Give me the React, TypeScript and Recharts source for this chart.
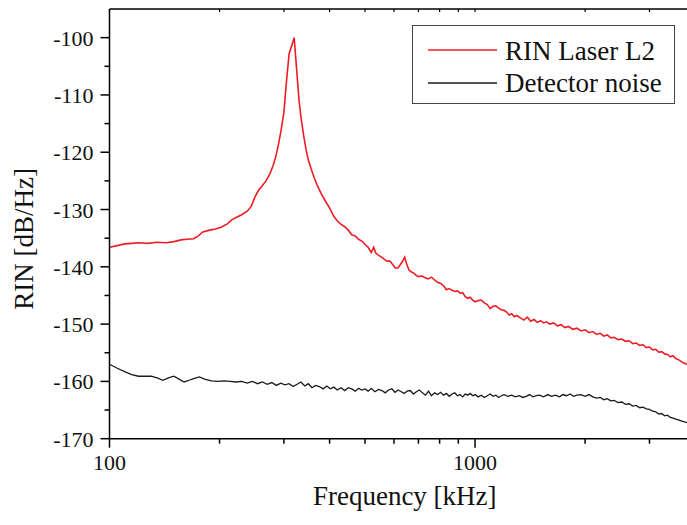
import React from 'react';
import { LineChart, Line, XAxis, YAxis, ReferenceLine, Legend } from 'recharts';

const FONT = "'Liberation Serif','Times New Roman',Times,serif";

const seriesNames = ['RIN Laser L2', 'Detector noise'];
const seriesColors = ['#ee1c25', '#1a1a1a'];

const xTicks = [100, 200, 300, 400, 500, 600, 700, 800, 900, 1000, 2000, 3000];
const xMajor = [100, 1000];
const yTicks = [-170, -165, -160, -155, -150, -145, -140, -135, -130, -125, -120, -115, -110, -105, -100, -95];

const redFreq = [100,105,110,115,120,127,135,143,150,157,163,170,175,180,188,195,202,210,216,222,230,238,244,250,256,262,268,274,280,285,290,295,300,305,310,315,320,325,330,335,340,345,350,360,370,380,390,400,410,420,430,440,450,460,470,480,490,500,510,520,528,535,545,555,565,575,585,595,605,615,625,635,642,650,660,670,680,690,700,715,730,745,760,775,790,805,820,835,850,865,880,895,910,925,940,955,970,985,1000,1020,1040,1060,1080,1100,1120,1140,1160,1180,1200,1220,1240,1260,1280,1300,1330,1360,1390,1420,1450,1480,1510,1540,1570,1600,1640,1680,1720,1760,1800,1850,1900,1950,2000,2050,2100,2150,2200,2250,2300,2350,2400,2460,2520,2580,2640,2700,2760,2820,2880,2940,3000,3060,3120,3180,3240,3300,3360,3420,3480,3540,3600,3660,3720,3800];
const redRIN = [-136.6,-136.3,-136.0,-135.9,-135.8,-135.9,-135.7,-135.8,-135.6,-135.3,-135.2,-135.1,-134.6,-133.9,-133.6,-133.4,-133.1,-132.5,-131.8,-131.4,-130.9,-130.3,-129.5,-127.8,-126.6,-125.8,-125.0,-123.9,-122.4,-120.8,-118.6,-116.0,-113.0,-107.5,-102.8,-101.4,-100.0,-105.5,-111.0,-114.5,-117.2,-119.6,-121.4,-123.8,-125.8,-127.3,-128.6,-129.7,-131.1,-132.0,-132.6,-133.0,-133.6,-134.4,-134.6,-135.2,-135.5,-136.1,-136.6,-137.5,-136.6,-137.6,-138.0,-138.3,-138.7,-139.0,-139.0,-139.6,-140.2,-140.2,-139.6,-138.9,-138.3,-139.5,-140.6,-140.9,-141.1,-141.5,-141.7,-141.6,-141.9,-142.1,-141.8,-142.3,-142.7,-142.9,-143.3,-144.0,-143.8,-144.1,-144.3,-144.2,-144.6,-144.5,-145.2,-145.5,-145.3,-145.8,-146.1,-145.9,-145.8,-146.3,-146.6,-147.3,-146.9,-146.8,-147.2,-147.5,-147.6,-147.9,-148.4,-148.2,-148.7,-148.5,-148.9,-149.3,-148.8,-149.5,-149.2,-149.7,-149.4,-149.8,-149.6,-150.0,-149.8,-150.3,-150.1,-150.6,-150.4,-150.9,-150.7,-151.2,-151.0,-151.5,-151.3,-151.8,-151.6,-152.1,-151.9,-152.4,-152.3,-152.7,-152.6,-153.0,-152.9,-153.4,-153.3,-153.7,-153.6,-154.1,-154.0,-154.5,-154.4,-154.9,-154.8,-155.2,-155.3,-155.7,-155.5,-156.0,-156.2,-156.5,-156.8,-157.0];

const noiseFreq = [100,105,110,115,120,125,130,135,140,145,150,155,160,165,170,176,182,190,198,206,214,222,230,238,246,254,262,270,278,286,294,302,310,318,326,334,342,350,358,366,375,384,393,402,411,420,430,440,450,460,470,480,490,500,510,520,532,544,556,568,580,592,604,616,628,640,652,665,678,691,704,718,732,746,760,775,790,805,820,835,850,865,880,895,910,925,940,955,970,985,1000,1020,1040,1060,1080,1100,1120,1140,1160,1180,1200,1230,1260,1290,1320,1350,1380,1410,1440,1470,1500,1540,1580,1620,1660,1700,1740,1780,1820,1860,1900,1950,2000,2050,2100,2150,2200,2250,2300,2350,2400,2460,2520,2580,2640,2700,2760,2820,2880,2940,3000,3060,3120,3180,3240,3300,3360,3420,3480,3540,3600,3660,3720,3800];
const noiseRIN = [-157.0,-157.7,-158.3,-158.8,-159.1,-159.1,-159.1,-159.4,-159.8,-159.4,-159.1,-159.6,-160.1,-159.8,-159.5,-159.2,-159.6,-159.9,-160.0,-159.9,-160.0,-160.1,-160.0,-160.3,-160.0,-160.4,-160.1,-160.5,-160.2,-160.7,-160.3,-160.6,-160.4,-160.9,-160.5,-160.1,-160.8,-160.4,-161.1,-160.7,-160.9,-161.3,-160.8,-161.3,-161.0,-161.5,-161.1,-161.6,-161.1,-161.3,-161.7,-161.2,-161.5,-161.3,-161.7,-161.2,-161.8,-161.4,-161.6,-162.0,-161.5,-161.3,-161.9,-161.5,-161.8,-162.1,-161.7,-161.6,-162.2,-161.8,-161.5,-162.0,-162.4,-161.7,-162.5,-162.0,-162.3,-161.9,-162.4,-162.1,-162.6,-162.2,-162.0,-162.5,-162.3,-162.7,-162.2,-162.4,-162.1,-162.5,-162.3,-162.7,-162.4,-162.8,-162.5,-162.2,-162.6,-162.4,-162.8,-162.5,-162.3,-162.6,-162.4,-162.7,-162.5,-162.8,-162.6,-162.3,-162.7,-162.5,-162.4,-162.7,-162.3,-162.6,-162.4,-162.7,-162.3,-162.5,-162.2,-162.6,-162.4,-162.3,-162.6,-162.3,-162.7,-162.9,-162.8,-163.2,-163.0,-163.4,-163.3,-163.7,-163.6,-164.0,-163.9,-164.3,-164.2,-164.6,-164.5,-164.8,-164.9,-165.2,-165.3,-165.7,-165.6,-166.0,-165.9,-166.3,-166.4,-166.6,-166.7,-166.9,-167.0,-167.2];

const redData = redFreq.map((f, i) => ({ f, v: redRIN[i] }));
const noiseData = noiseFreq.map((f, i) => ({ f, v: noiseRIN[i] }));

const PLOT_TOP = 9;

const XTick = (props: any) => {
  const { x, y, payload } = props;
  const major = xMajor.includes(payload.value);
  return (
    <g>
      <line x1={x} x2={x} y1={y} y2={y + (major ? 9 : 5)} stroke="#000" strokeWidth={1.5} />
      <line x1={x} x2={x} y1={PLOT_TOP} y2={PLOT_TOP + 3} stroke="#000" strokeWidth={1.2} />
      {major && (
        <text x={x} y={y + 31} textAnchor="middle" fontSize={22} fontFamily={FONT} fill="#111">
          {payload.value}
        </text>
      )}
    </g>
  );
};

const YTick = (props: any) => {
  const { x, y, payload } = props;
  const v = payload.value;
  if (v === -95) return null;
  const major = v % 10 === 0;
  return (
    <g>
      <line x1={x - (major ? 9 : 5)} x2={x} y1={y} y2={y} stroke="#000" strokeWidth={1.5} />
      {major && (
        <text x={x - 16} y={y + 8} textAnchor="end" fontSize={22} fontFamily={FONT} fill="#111">
          {v}
        </text>
      )}
    </g>
  );
};

const XTitle = (props: any) => {
  const vb = props.viewBox || { x: 0, y: 0, width: 0 };
  return (
    <text x={vb.x + vb.width / 2 + 6.5} y={vb.y + 66} textAnchor="middle" fontSize={27} fontFamily={FONT} fill="#111">
      Frequency [kHz]
    </text>
  );
};

const YTitle = (props: any) => {
  const vb = props.viewBox || { x: 0, y: 0, height: 0 };
  const cx = 33;
  const cy = vb.y + vb.height / 2 + 15;
  return (
    <text x={cx} y={cy} transform={`rotate(-90 ${cx} ${cy})`} textAnchor="middle" fontSize={27} fontFamily={FONT} fill="#111">
      RIN [dB/Hz]
    </text>
  );
};

const LegendBox = () => (
  <div style={{ width: 263, height: 79, boxSizing: 'border-box', border: '1.5px solid #444', background: '#fff' }}>
    <svg width={260} height={76} style={{ display: 'block' }}>
      {seriesNames.map((name, i) => (
        <g key={name}>
          <line x1={15} x2={84} y1={24 + i * 33} y2={24 + i * 33} stroke={seriesColors[i]} strokeWidth={1.5} />
          <text x={92} y={34 + i * 32} fontSize={27} fontFamily={FONT} fill="#111">
            {name}
          </text>
        </g>
      ))}
    </svg>
  </div>
);

export default function App() {
  return (
    <div style={{ position: 'absolute', left: 0, top: 0, width: 687, height: 525, background: '#fff' }}>
      <LineChart width={687} height={525} margin={{ top: PLOT_TOP, right: 0, left: 0, bottom: 0 }}>
        <XAxis
          dataKey="f"
          type="number"
          scale="log"
          domain={[100, 3800]}
          allowDataOverflow
          ticks={xTicks}
          interval={0}
          tick={<XTick />}
          tickLine={false}
          tickSize={0}
          tickMargin={0}
          height={86.3}
          axisLine={{ stroke: '#000', strokeWidth: 1.5 }}
          label={<XTitle />}
        />
        <YAxis
          type="number"
          domain={[-170, -95]}
          allowDataOverflow
          ticks={yTicks}
          interval={0}
          tick={<YTick />}
          tickLine={false}
          tickSize={0}
          tickMargin={0}
          width={109.5}
          axisLine={{ stroke: '#000', strokeWidth: 1.5 }}
          label={<YTitle />}
        />
        <ReferenceLine y={-95} stroke="#000" strokeWidth={1.5} />
        <Legend
          verticalAlign="middle"
          align="center"
          layout="horizontal"
          wrapperStyle={{ position: 'absolute', left: 411.5, top: 25, width: 263, height: 79, margin: 0 }}
          content={() => <LegendBox />}
        />
        <Line data={redData} dataKey="v" name={seriesNames[0]} stroke={seriesColors[0]} strokeWidth={1.6} dot={false} isAnimationActive={false} />
        <Line data={noiseData} dataKey="v" name={seriesNames[1]} stroke={seriesColors[1]} strokeWidth={1.3} dot={false} isAnimationActive={false} />
      </LineChart>
    </div>
  );
}
